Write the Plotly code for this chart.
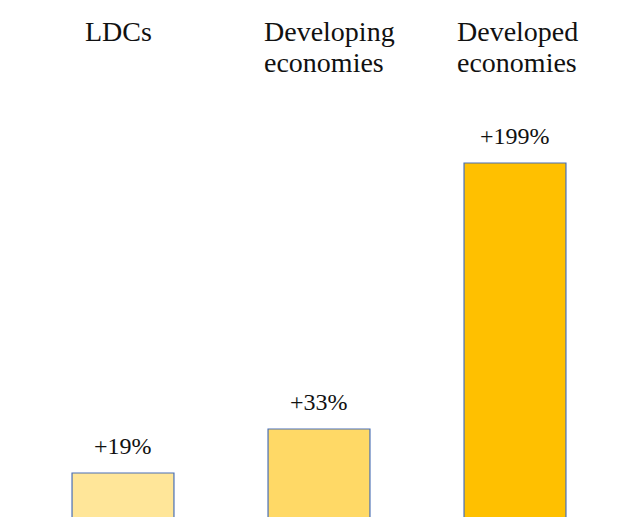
import plotly.graph_objects as go

# Data
categories = ["LDCs", "Developing economies", "Developed economies"]
title_lines = [["LDCs"], ["Developing", "economies"], ["Developed", "economies"]]
bar_values = [46, 90, 356]          # visible bar levels (arbitrary units, no axis shown)
growth_labels = ["+19%", "+33%", "+199%"]
bar_colors = ["#FFE699", "#FFD966", "#FFC000"]

W, H = 637, 517
FONT = "Liberation Serif"

fig = go.Figure()
fig.add_trace(go.Bar(
    x=categories, y=bar_values,
    marker=dict(color=bar_colors, line=dict(color="#4A6FB5", width=1.2)),
    width=0.52, hoverinfo="skip",
))

annotations = []
for cat, val, lab in zip(categories, bar_values, growth_labels):
    annotations.append(dict(
        x=cat, y=val, xref="x", yref="y", text=lab, showarrow=False,
        xanchor="center", yanchor="bottom", yshift=12,
        font=dict(family=FONT, size=24, color="#111111"),
    ))

title_left_px = [83, 262, 455]
line_center_px = [31, 62]
for left, lines in zip(title_left_px, title_lines):
    for k, line in enumerate(lines):
        annotations.append(dict(
            x=left / W, y=1 - line_center_px[k] / H, xref="paper", yref="paper",
            text=line, showarrow=False, xanchor="left", yanchor="middle",
            font=dict(family=FONT, size=28, color="#111111"),
        ))

fig.update_layout(
    width=W, height=H,
    margin=dict(l=0, r=0, t=0, b=0),
    paper_bgcolor="white", plot_bgcolor="white",
    showlegend=False,
    font=dict(family=FONT),
    xaxis=dict(range=[-123 / 196, (W - 123) / 196], visible=False),
    yaxis=dict(range=[2, 2 + H], visible=False),
    annotations=annotations,
)

fig.write_html("out.html")
